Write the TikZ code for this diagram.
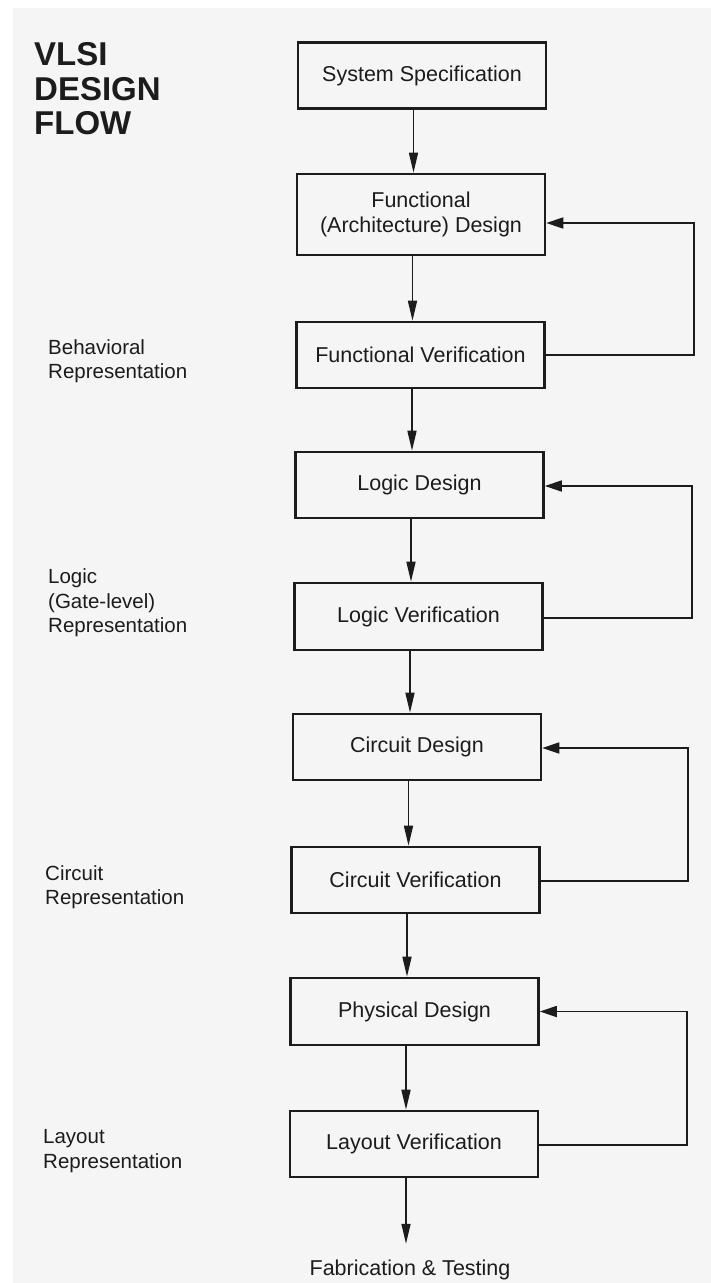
\documentclass[tikz,border=0pt]{standalone}
\usepackage{fontspec}
\setmainfont{Liberation Sans}
\usetikzlibrary{arrows.meta}
\definecolor{bgc}{HTML}{F5F5F5}
\definecolor{ink}{HTML}{1C1C1C}
\begin{document}
\begin{tikzpicture}[x=1pt,y=-1pt,
  stage/.style={draw=ink,line width=2.6pt,minimum width=248pt,minimum height=66pt,inner sep=0pt,align=center,font=\fontsize{21.5}{25}\selectfont,text=ink},
  flow/.style={draw=ink,line width=1.6pt,-{Triangle[length=20pt,width=9pt]}},
  back/.style={draw=ink,line width=1.8pt,-{Triangle[length=17pt,width=11pt]}},
  side/.style={anchor=west,align=left,inner sep=0pt,font=\fontsize{20.5}{24.5}\selectfont,text=ink}]
\useasboundingbox (0,0) rectangle (711,1283);
\fill[white] (0,0) rectangle (711,1283);
\fill[bgc] (13,8) rectangle (711,1283);

\node[stage] (ss) at (422,75.5) {System Specification};
\node[stage,minimum height=81pt] (fd) at (421,214.5) {Functional\\(Architecture) Design};
\node[stage] (fv) at (420.5,355) {Functional Verification};
\node[stage] (ld) at (419.5,485) {Logic Design};
\node[stage,minimum height=67pt] (lv) at (418.5,616.5) {Logic Verification};
\node[stage] (cd) at (417,747) {Circuit Design};
\node[stage] (cv) at (415.5,880) {Circuit Verification};
\node[stage,minimum height=67pt] (pd) at (414.5,1011.5) {Physical Design};
\node[stage] (lyv) at (414,1144) {Layout Verification};
\node[font=\fontsize{21.5}{25}\selectfont,text=ink,inner sep=0pt] (fab) at (410,1270) {Fabrication \& Testing};

\foreach \a/\b in {ss/fd,fd/fv,fv/ld,ld/lv,lv/cd,cd/cv,cv/pd,pd/lyv}
  \draw[flow] ([xshift=-8.5pt]\a.south) -- ([xshift=-8.5pt]\a.south |- \b.north);
\draw[flow,shorten >=16pt] ([xshift=-8pt]lyv.south) -- ([xshift=-8pt]lyv.south |- fab.north);

\coordinate (r1) at (694,0);
\coordinate (r2) at (692,0);
\coordinate (r3) at (688,0);
\coordinate (r4) at (687,0);
\draw[back] (fv.east) -- (fv.east -| r1) |- ([yshift=-8.5pt]fd.east);
\draw[back] ([yshift=-1.5pt]lv.east) -- ([yshift=-1.5pt]lv.east -| r2) |- ([yshift=-1pt]ld.east);
\draw[back] ([yshift=-1pt]cv.east) -- ([yshift=-1pt]cv.east -| r3) |- ([yshift=-1pt]cd.east);
\draw[back] ([yshift=-1pt]lyv.east) -- ([yshift=-1pt]lyv.east -| r4) |- (pd.east);

\node[anchor=west,align=left,inner sep=0pt,font=\fontsize{33}{34.5}\selectfont\bfseries,text=ink] (title) at (34,89) {VLSI\\DESIGN\\FLOW};
\node[side] (beh) at (48,361) {Behavioral\\Representation};
\node[side] (logr) at (48,603) {Logic\\(Gate-level)\\Representation};
\node[side] (cir) at (45,887) {Circuit\\Representation};
\node[side] (lay) at (43,1151) {Layout\\Representation};
\end{tikzpicture}
\end{document}
